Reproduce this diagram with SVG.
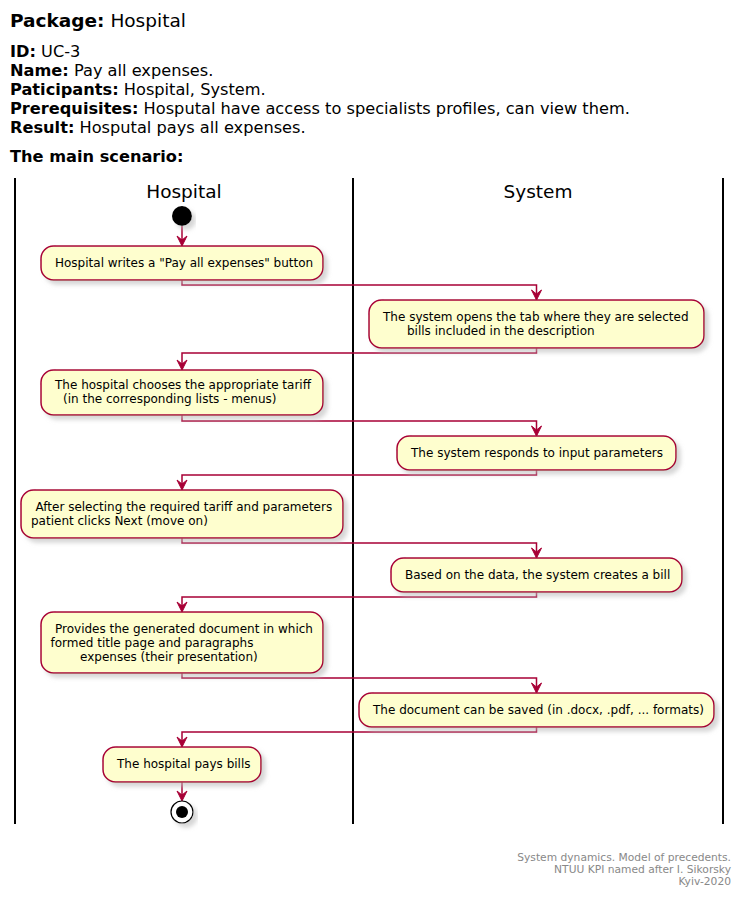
<svg xmlns="http://www.w3.org/2000/svg" width="743" height="897" viewBox="0 0 743 897">
<style>
  text { font-family: "DejaVu Sans", "Liberation Sans", sans-serif; fill: #000; }
  .hdr { font-size: 16.2px; }
  .b { font-weight: bold; }
  .ttl { font-size: 18.5px; }
  .lane { font-size: 18.5px; text-anchor: middle; }
  .act rect { fill: #FEFECE; stroke: #A80036; stroke-width: 1.5; filter: url(#shadow); }
  .act text { font-size: 12px; }
  .lanes line { stroke: #000; stroke-width: 2; }
  .conn path { fill: none; stroke: #A80036; stroke-width: 1.5; marker-end: url(#arr); }
  .foot { font-size: 10.7px; fill: #888888; text-anchor: end; }
</style>
<defs>
  <filter id="shadow" x="-10%" y="-20%" width="130%" height="160%">
    <feGaussianBlur in="SourceAlpha" stdDeviation="2" result="blur"/>
    <feOffset in="blur" dx="4" dy="4" result="off"/>
    <feColorMatrix in="off" type="matrix" values="0 0 0 0 0.5  0 0 0 0 0.5  0 0 0 0 0.5  0 0 0 0.6 0" result="sh"/>
    <feMerge><feMergeNode in="sh"/><feMergeNode in="SourceGraphic"/></feMerge>
  </filter>
  <marker id="arr" viewBox="-1 -1 12 12" refX="10" refY="5" markerWidth="12" markerHeight="12" markerUnits="userSpaceOnUse" orient="auto">
    <path d="M0,0 L10,5 L0,10 L4,5 Z" fill="#A80036" stroke="#A80036" stroke-width="1" stroke-linejoin="miter"/>
  </marker>
</defs>
<rect width="743" height="897" fill="#FFFFFF"/>

<g id="header">
  <text x="10" y="27" class="ttl"><tspan class="b">Package:</tspan> Hospital</text>
  <text x="10" y="57" class="hdr"><tspan class="b">ID:</tspan> UC-3</text>
  <text x="10" y="76" class="hdr"><tspan class="b">Name:</tspan> Pay all expenses.</text>
  <text x="10" y="95" class="hdr"><tspan class="b">Paticipants:</tspan> Hospital, System.</text>
  <text x="10" y="114" class="hdr"><tspan class="b">Prerequisites:</tspan> Hosputal have access to specialists profiles, can view them.</text>
  <text x="10" y="133" class="hdr"><tspan class="b">Result:</tspan> Hosputal pays all expenses.</text>
  <text x="10" y="162" class="hdr b">The main scenario:</text>
</g>

<g id="swimlanes" class="lanes">
  <line x1="15" y1="178" x2="15" y2="824"/>
  <line x1="353" y1="178" x2="353" y2="824"/>
  <line x1="723" y1="178" x2="723" y2="824"/>
  <text x="184" y="198" class="lane">Hospital</text>
  <text x="538" y="198" class="lane">System</text>
</g>

<g id="connectors" class="conn">
  <path d="M182,226 L182,246"/>
  <path d="M182,280 L182,285 L536.5,285 L536.5,300"/>
  <path d="M536.5,348 L536.5,353 L182,353 L182,370"/>
  <path d="M182,415 L182,421 L536.5,421 L536.5,436"/>
  <path d="M536.5,470 L536.5,475 L182,475 L182,490"/>
  <path d="M182,538 L182,543 L536.5,543 L536.5,558"/>
  <path d="M536.5,592 L536.5,597 L182,597 L182,612"/>
  <path d="M182,673 L182,678 L536.5,678 L536.5,693"/>
  <path d="M536.5,727 L536.5,732 L182,732 L182,747"/>
  <path d="M182,782 L182,801"/>
</g>

<g id="start">
  <circle cx="182" cy="216" r="10" fill="#000" filter="url(#shadow)"/>
</g>

<g id="a1" class="act">
  <rect x="41" y="246" width="282" height="34" rx="12.5"/>
  <text x="55" y="267">Hospital writes a "Pay all expenses" button</text>
</g>
<g id="a2" class="act">
  <rect x="369" y="300" width="335" height="48" rx="12.5"/>
  <text x="383" y="321">The system opens the tab where they are selected</text>
  <text x="407" y="335">bills included in the description</text>
</g>
<g id="a3" class="act">
  <rect x="41" y="370" width="282" height="45" rx="12.5"/>
  <text x="55" y="389">The hospital chooses the appropriate tariff</text>
  <text x="63" y="403">(in the corresponding lists - menus)</text>
</g>
<g id="a4" class="act">
  <rect x="397" y="436" width="279" height="34" rx="12.5"/>
  <text x="411" y="457">The system responds to input parameters</text>
</g>
<g id="a5" class="act">
  <rect x="21" y="490" width="322" height="48" rx="12.5"/>
  <text x="35.5" y="511">After selecting the required tariff and parameters</text>
  <text x="31" y="525">patient clicks Next (move on)</text>
</g>
<g id="a6" class="act">
  <rect x="391" y="558" width="291" height="34" rx="12.5"/>
  <text x="405" y="579">Based on the data, the system creates a bill</text>
</g>
<g id="a7" class="act">
  <rect x="41" y="612" width="282" height="61" rx="12.5"/>
  <text x="55" y="632.5">Provides the generated document in which</text>
  <text x="50.5" y="646.5">formed title page and paragraphs</text>
  <text x="80" y="660.5">expenses (their presentation)</text>
</g>
<g id="a8" class="act">
  <rect x="359" y="693" width="355" height="34" rx="12.5"/>
  <text x="373" y="714">The document can be saved (in .docx, .pdf, ... formats)</text>
</g>
<g id="a9" class="act">
  <rect x="103" y="747" width="158" height="35" rx="12.5"/>
  <text x="117" y="768">The hospital pays bills</text>
</g>

<g id="end">
  <circle cx="182" cy="812" r="11" fill="#FFFFFF" stroke="#000" stroke-width="1.2" filter="url(#shadow)"/>
  <circle cx="182" cy="812" r="6" fill="#000"/>
</g>

<g id="footer">
  <text x="731" y="861" class="foot">System dynamics. Model of precedents.</text>
  <text x="731" y="873" class="foot">NTUU KPI named after I. Sikorsky</text>
  <text x="731" y="885" class="foot">Kyiv-2020</text>
</g>
</svg>
